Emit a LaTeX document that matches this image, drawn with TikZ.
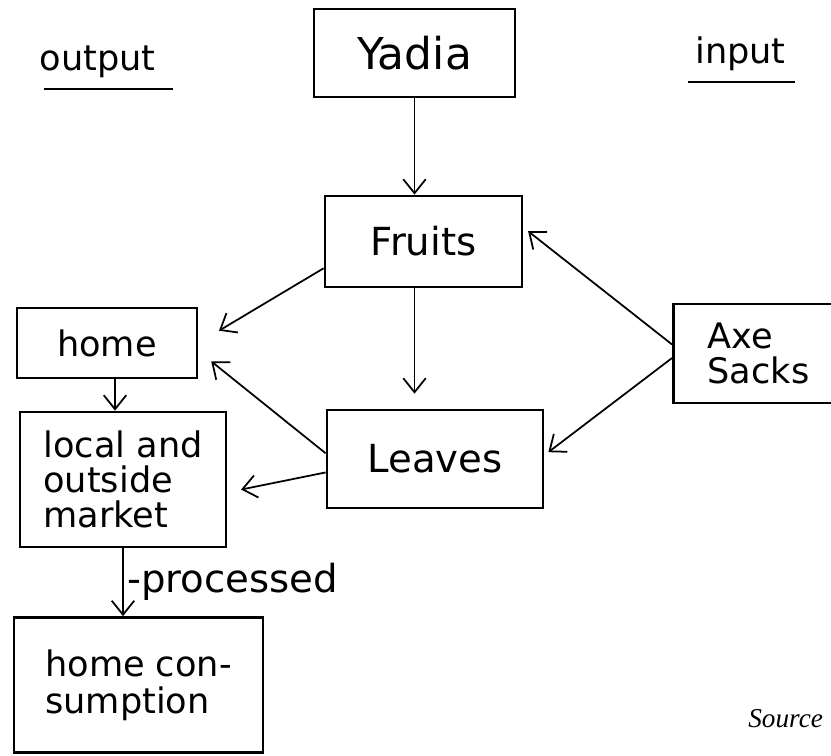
\documentclass[tikz,border=0pt]{standalone}
\usepackage{fontspec}
\setmainfont{DejaVu Sans}
\newfontfamily\srcfont{Liberation Serif}
\usetikzlibrary{arrows.meta}

\tikzset{
  box/.style={draw, line width=1.6pt, inner sep=0pt},
  lbl/.style={font=\fontsize{20}{20}\selectfont},
  arr/.style={-{Straight Barb[length=0.28cm,width=0.45cm]}, line width=1pt},
  ul/.style={line width=1.6pt}
}

\begin{document}
\begin{tikzpicture}[x=0.02cm, y=-0.02cm]
\useasboundingbox (0,0) rectangle (831,755);
\clip (0,0) rectangle (831,755);

\node[lbl, anchor=base] (output) at (97.5,70) {output};
\draw[ul] ([shift={(-54,19)}]output.base) -- ([shift={(75,19)}]output.base);
\node[lbl, anchor=base] (input) at (740.5,63) {input};
\draw[ul] ([shift={(-52.5,19)}]input.base) -- ([shift={(54.5,19)}]input.base);

\node[box, minimum width=4.02cm, minimum height=1.76cm, font=\fontsize{25}{25}\selectfont] (yadia) at (414.5,53) {Yadia};
\node[box, minimum width=3.94cm, minimum height=1.82cm, font=\fontsize{22}{22}\selectfont] (fruits) at (423.5,241.5) {Fruits};
\node[box, minimum width=4.32cm, minimum height=1.96cm, font=\fontsize{22}{22}\selectfont] (leaves) at (435,459) {Leaves};
\node[box, lbl, minimum width=3.6cm, minimum height=1.4cm] (home) at (107,343) {home};
\node[box, lbl, align=left, minimum width=4.12cm, minimum height=2.7cm] (market) at (123,479.5) {local and\\outside\\market};
\node[box, lbl, align=left, anchor=west, minimum width=3.4cm, minimum height=1.98cm] (axe) at (672,353.5) {Axe\\Sacks};
\node[box, align=left, minimum width=4.98cm, minimum height=2.7cm, font=\fontsize{20}{21}\selectfont] (cons) at (138.5,685) {home con-\\sumption};

\node[font=\srcfont\itshape\fontsize{15.5}{16}\selectfont, anchor=base west, inner sep=0pt] (source) at (748,727) {Source};

\draw[arr] (yadia.south) -- (yadia.south |- fruits.north);
\draw[arr, shorten >=0.3cm] (yadia.south |- fruits.south) -- (yadia.south |- leaves.north);
\draw[arr, shorten >=0.48cm] (fruits.195) -- (home.east);
\draw[arr, shorten >=0.33cm] (leaves.177) -- (home.-5);
\draw[arr, shorten >=0.28cm] (leaves.187) -- (market.-7);
\draw[arr, shorten >=0.12cm] (axe.174) -- (fruits.8);
\draw[arr, shorten >=0.1cm] (axe.183) -- (leaves.2);
\draw[arr] ([xshift=0.16cm]home.south) -- ([xshift=0.16cm]home.south |- market.north);
\draw[arr] (market.south) -- node[right, inner sep=2pt, font=\fontsize{22}{22}\selectfont] {-processed} (market.south |- cons.north);

\end{tikzpicture}
\end{document}
